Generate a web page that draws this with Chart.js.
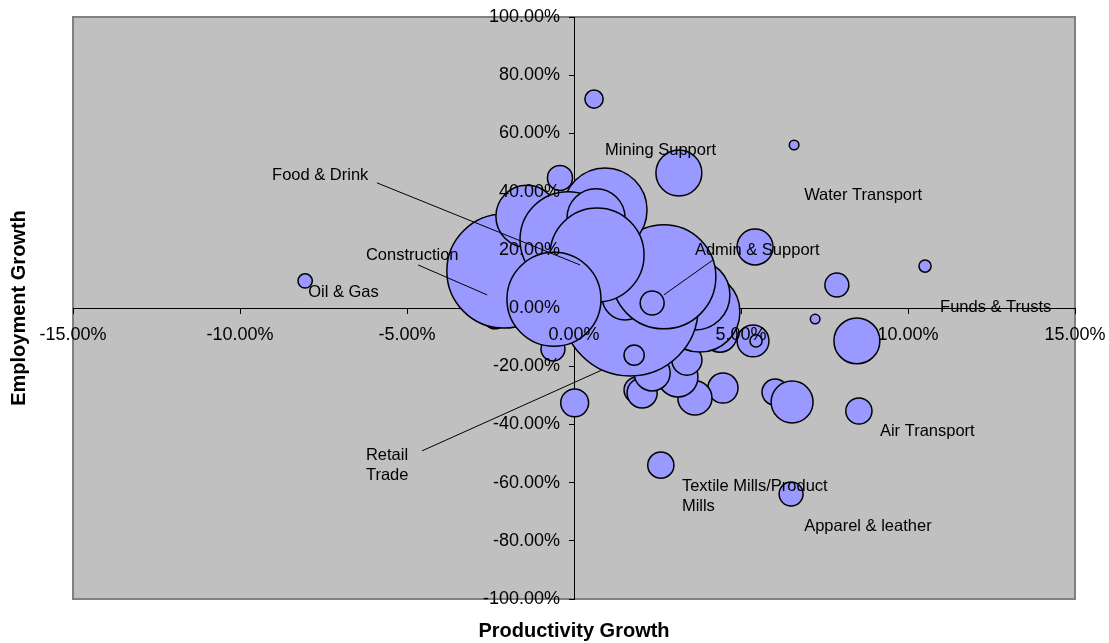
<!DOCTYPE html>
<html lang="en">
<head>
<meta charset="UTF-8">
<title>Productivity vs Employment Growth</title>
<script src="https://cdn.jsdelivr.net/npm/chart.js@4.4.1/dist/chart.umd.min.js"></script>
<style>
  html, body { margin: 0; padding: 0; background: #fff; }
  #wrap { width: 1109px; height: 643px; }
</style>
</head>
<body>
<div id="wrap"><canvas id="chart" width="1109" height="643"></canvas></div>
<script>
// one entry per industry bubble, in drawing order (later ones sit on top)
const productivityGrowth = [-8.05, 0.60, 3.14, 6.59, 5.42, 10.51, 7.87, 7.22, 8.47, 8.53,
  6.02, 6.53, 2.60, 6.50, 0.02, 4.46, 3.62, 1.89, 2.04, 3.11,
  3.38, 2.34, 4.37, 5.36, 5.45, -0.63, -2.37, 3.77, 3.62, 1.68,
  1.80, 1.53, 2.69, 2.34, -2.10, -0.42, 0.93, -1.41, -0.18, 0.66,
  0.69, -0.60];
const employmentGrowth = [9.3, 71.8, 46.4, 56.0, 21.0, 14.4, 7.9, -3.8, -11.3, -35.4,
  -28.9, -32.3, -54.0, -63.9, -32.6, -27.5, -30.9, -28.2, -29.2, -23.7,
  -17.9, -22.3, -9.3, -11.3, -11.3, -14.1, -3.4, -1.4, 4.5, 0.0,
  -16.2, 3.8, 10.7, 1.7, 12.7, 44.7, 33.7, 31.5, 23.5, 31.0,
  18.2, 3.0];
const relativeSize = [1.1, 1.8, 11.4, 0.5, 7.0, 0.8, 3.1, 0.5, 11.4, 3.7,
  3.7, 9.5, 3.7, 3.1, 4.2, 4.9, 6.3, 3.7, 4.9, 8.7,
  4.9, 7.0, 6.3, 5.5, 0.8, 3.1, 2.6, 34.6, 26.5, 100.0,
  2.2, 11.4, 58.5, 3.1, 70.3, 3.4, 38.1, 20.8, 49.8, 18.2,
  47.8, 47.8];

const xTickMin = -15, xTickMax = 15, xTickStep = 5;
const yTickMin = -100, yTickMax = 100, yTickStep = 20;

// data labels: text lines and anchor (left edge, middle) in data units
const calloutText = [['Food & Drink'], ['Construction'], ['Oil & Gas'], ['Mining Support'],
  ['Water Transport'], ['Admin & Support'], ['Funds & Trusts'], ['Air Transport'],
  ['Textile Mills/Product', 'Mills'], ['Apparel & leather'], ['Retail', 'Trade']];
const calloutX = [-9.04, -6.23, -7.96, 0.93, 6.89, 3.62, 10.96, 9.16, 3.23, 6.89, -6.23];
const calloutY = [45.7, 18.2, 5.2, 54.0, 38.8, 19.9, 0.3, -42.3, -61.2, -74.9, -50.5];
// leader lines [x1, y1, x2, y2] in data units
const leaderLines = [
  [-5.90, 43.0, 0.18, 14.8],
  [-4.67, 14.8, -2.60, 4.5],
  [4.16, 16.5, 2.69, 4.5],
  [-4.55, -49.1, 0.84, -21.3]
];

const FONT = '"Liberation Sans", Arial, sans-serif';
const MAX_R = 68;

const bubbles = productivityGrowth.map((x, i) => ({
  x: x,
  y: employmentGrowth[i],
  r: MAX_R * Math.sqrt(relativeSize[i] / 100)
}));

const pct = v => v.toFixed(2) + '%';

const plotBackground = {
  id: 'plotBackground',
  beforeDraw(chart) {
    const { ctx, chartArea: a } = chart;
    ctx.save();
    ctx.fillStyle = '#C0C0C0';
    ctx.fillRect(a.left, a.top, a.width, a.height);
    ctx.strokeStyle = '#808080';
    ctx.lineWidth = 2;
    ctx.strokeRect(a.left, a.top, a.width, a.height);
    ctx.restore();
  }
};

// tick labels for the axes crossing at zero, drawn over the bubbles like in Excel
const tickLabels = {
  id: 'tickLabels',
  afterDatasetsDraw(chart) {
    const { ctx, scales: { x, y } } = chart;
    const x0 = x.getPixelForValue(0);
    const y0 = y.getPixelForValue(0);
    ctx.save();
    ctx.fillStyle = '#000';
    ctx.font = '18px ' + FONT;
    ctx.textBaseline = 'middle';
    ctx.textAlign = 'right';
    y.ticks.forEach(t => ctx.fillText(pct(t.value), x0 - 14, y.getPixelForValue(t.value)));
    ctx.textAlign = 'center';
    x.ticks.forEach(t => ctx.fillText(pct(t.value), x.getPixelForValue(t.value), y0 + 27));
    ctx.restore();
  }
};

const callouts = {
  id: 'callouts',
  afterDatasetsDraw(chart) {
    const { ctx, scales: { x, y } } = chart;
    ctx.save();
    ctx.strokeStyle = '#000';
    ctx.lineWidth = 1;
    leaderLines.forEach(l => {
      ctx.beginPath();
      ctx.moveTo(x.getPixelForValue(l[0]), y.getPixelForValue(l[1]));
      ctx.lineTo(x.getPixelForValue(l[2]), y.getPixelForValue(l[3]));
      ctx.stroke();
    });
    ctx.fillStyle = '#000';
    ctx.font = '16.5px ' + FONT;
    ctx.textAlign = 'left';
    ctx.textBaseline = 'middle';
    calloutText.forEach((lines, i) => {
      const px = x.getPixelForValue(calloutX[i]);
      const py = y.getPixelForValue(calloutY[i]);
      lines.forEach((t, j) => ctx.fillText(t, px, py + j * 20));
    });
    ctx.restore();
  }
};

const axisTitles = {
  id: 'axisTitles',
  afterDraw(chart) {
    const { ctx, scales: { x, y } } = chart;
    ctx.save();
    ctx.fillStyle = '#000';
    ctx.font = 'bold 20px ' + FONT;
    ctx.textAlign = 'center';
    ctx.textBaseline = 'middle';
    ctx.fillText('Productivity Growth', x.getPixelForValue(0), 631);
    ctx.translate(19, y.getPixelForValue(0));
    ctx.rotate(-Math.PI / 2);
    ctx.fillText('Employment Growth', 0, 0);
    ctx.restore();
  }
};

new Chart(document.getElementById('chart'), {
  type: 'bubble',
  data: {
    datasets: [{
      data: bubbles,
      backgroundColor: '#9999FF',
      borderColor: '#000000',
      borderWidth: 1.5,
      hoverBorderWidth: 1.5
    }]
  },
  options: {
    responsive: false,
    animation: false,
    events: [],
    layout: { autoPadding: false, padding: { left: 73, right: 34, top: 17, bottom: 44 } },
    plugins: { legend: { display: false }, tooltip: { enabled: false } },
    scales: {
      x: {
        type: 'linear',
        position: { y: 0 },
        min: xTickMin, max: xTickMax,
        grid: { drawOnChartArea: false, drawTicks: true, tickLength: 5, color: '#000' },
        border: { color: '#000', width: 1 },
        ticks: { stepSize: xTickStep, display: false }
      },
      y: {
        type: 'linear',
        position: { x: 0 },
        min: yTickMin, max: yTickMax,
        grid: { drawOnChartArea: false, drawTicks: true, tickLength: 5, color: '#000' },
        border: { color: '#000', width: 1 },
        ticks: { stepSize: yTickStep, display: false }
      }
    }
  },
  plugins: [plotBackground, tickLabels, callouts, axisTitles]
});
</script>
</body>
</html>
